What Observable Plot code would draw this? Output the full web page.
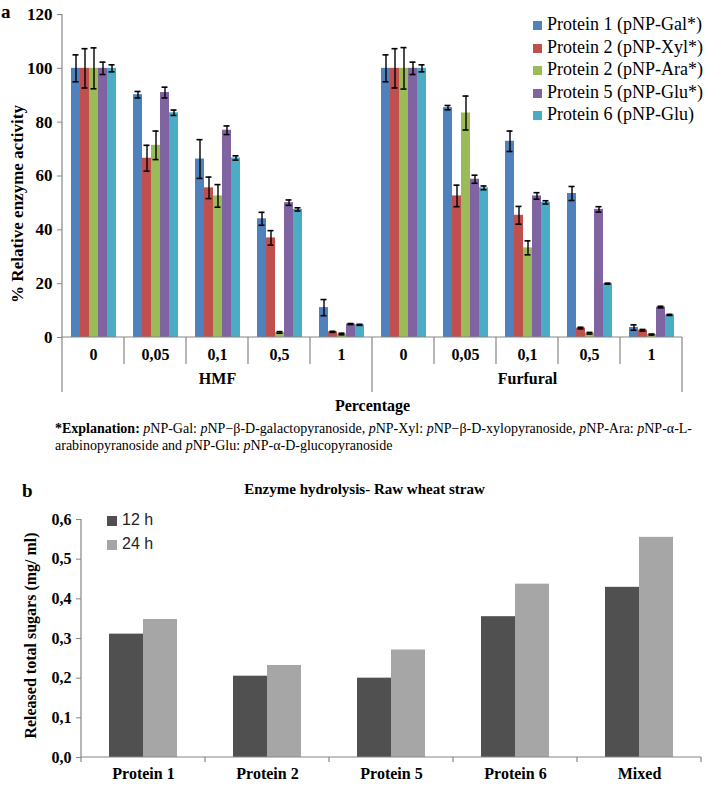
<!DOCTYPE html>
<html><head><meta charset="utf-8">
<script src="https://cdn.jsdelivr.net/npm/d3@7"></script>
<script src="https://cdn.jsdelivr.net/npm/@observablehq/plot@0.6"></script>
<style>
html,body{margin:0;padding:0;background:#fff;}
#root{position:relative;width:709px;height:785px;overflow:hidden;font-family:"Liberation Serif","Times New Roman",serif;color:#000;}
#root svg{position:absolute;left:0;}
.panel{position:absolute;font-weight:bold;font-size:19px;line-height:22px;}
.legA{position:absolute;left:533px;top:13px;font-size:18px;line-height:22.5px;white-space:nowrap;}
.legA .sw{display:inline-block;width:9px;height:9px;margin-right:5px;vertical-align:0px;}
.legB{position:absolute;left:107px;top:508px;font-family:"Liberation Sans",Arial,sans-serif;font-size:16px;line-height:24px;white-space:nowrap;color:#222;}
.legB .sw{display:inline-block;width:10px;height:10px;margin-right:5px;vertical-align:-1px;}
.expl{position:absolute;left:55px;top:420px;font-size:14px;line-height:17px;white-space:nowrap;}
.titleB{position:absolute;left:0;width:729px;top:481px;text-align:center;font-weight:bold;font-size:15px;}
</style></head><body><div id="root"></div>
<script>
// ---------- Panel a data ----------
const compounds = ["HMF", "Furfural"];
const concentrations = ["0", "0,05", "0,1", "0,5", "1"];
const seriesA = ["Protein 1 (pNP-Gal*)", "Protein 2 (pNP-Xyl*)", "Protein 2 (pNP-Ara*)", "Protein 5 (pNP-Glu*)", "Protein 6 (pNP-Glu)"];
const colorsA = ["#4F81BD", "#C0504D", "#9BBB59", "#8064A2", "#4BACC6"];
// values: HMF (5 concentrations) then Furfural (5 concentrations)
const p1Gal = [100, 90.2, 66.3, 44.1, 11.1, 100, 85.4, 72.9, 53.5, 3.7];
const p1GalErr = [5.0, 1.2, 7.2, 2.4, 3.0, 5.0, 0.8, 3.8, 2.6, 1.0];
const p2Xyl = [100, 66.6, 55.6, 37.0, 2.1, 100, 52.6, 45.4, 3.5, 2.7];
const p2XylErr = [7.3, 4.8, 4.0, 2.7, 0.2, 7.3, 4.0, 3.3, 0.3, 0.3];
const p2Ara = [100, 71.4, 52.6, 1.9, 1.3, 100, 83.4, 33.3, 1.6, 1.1];
const p2AraErr = [7.6, 5.3, 4.2, 0.3, 0.3, 7.7, 6.3, 2.6, 0.3, 0.2];
const p5Glu = [100, 91.0, 77.0, 50.1, 5.0, 100, 58.8, 52.6, 47.6, 11.3];
const p5GluErr = [2.3, 2.0, 1.6, 1.0, 0.2, 2.3, 1.5, 1.2, 1.0, 0.3];
const p6Glu = [100, 83.5, 66.7, 47.6, 4.7, 100, 55.6, 50.2, 20.0, 8.4];
const p6GluErr = [1.3, 1.0, 0.8, 0.6, 0.2, 1.3, 0.7, 0.6, 0.2, 0.2];
const yTicksA = [0, 20, 40, 60, 80, 100, 120];

// ---------- Panel b data ----------
const proteinsB = ["Protein 1", "Protein 2", "Protein 5", "Protein 6", "Mixed"];
const timesB = ["12 h", "24 h"];
const colorsB = ["#505050", "#A6A6A6"];
const sugars12h = [0.311, 0.205, 0.200, 0.355, 0.429];
const sugars24h = [0.348, 0.232, 0.271, 0.437, 0.555];
const yTicksB = [0, 0.1, 0.2, 0.3, 0.4, 0.5, 0.6];

// ---------- build tables ----------
const fxDomainA = compounds.flatMap(c => concentrations.map(k => c + "|" + k));
const valuesA = [p1Gal, p2Xyl, p2Ara, p5Glu, p6Glu];
const errorsA = [p1GalErr, p2XylErr, p2AraErr, p5GluErr, p6GluErr];
const dataA = [];
fxDomainA.forEach((key, gi) => {
  seriesA.forEach((s, si) => {
    dataA.push({key, series: s, value: valuesA[si][gi], err: errorsA[si][gi]});
  });
});
const dataB = [];
proteinsB.forEach((p, i) => {
  dataB.push({protein: p, time: timesB[0], value: sugars12h[i]});
  dataB.push({protein: p, time: timesB[1], value: sugars24h[i]});
});

const root = document.getElementById("root");
const AXIS_GRAY = "#868686";

// ---------- Panel a ----------
const plotA = Plot.plot({
  width: 709, height: 415,
  marginLeft: 59, marginRight: 25, marginTop: 14, marginBottom: 78,
  style: {fontFamily: "'Liberation Serif','Times New Roman',serif", fontSize: "16px", fontWeight: "bold", color: "#000", background: "transparent", overflow: "visible"},
  fx: {domain: fxDomainA, padding: 0, axis: null},
  x: {domain: seriesA, paddingInner: 0, paddingOuter: 0.755, axis: null},
  y: {domain: [0, 120], axis: null},
  color: {domain: seriesA, range: colorsA},
  marks: [
    Plot.axisY({ticks: yTicksA, tickSize: 5, tickPadding: 5, stroke: AXIS_GRAY, fill: "#000", label: null, fontSize: 17}),
    Plot.barY(dataA, {fx: "key", x: "series", y: "value", fill: "series"}),
    Plot.ruleX(dataA, {fx: "key", x: "series", y1: d => d.value - d.err, y2: d => d.value + d.err, stroke: "#000", strokeWidth: 1.4}),
    Plot.tickY(dataA, {fx: "key", x: "series", y: d => d.value - d.err, stroke: "#000", strokeWidth: 1.6, insetLeft: 1.5, insetRight: 1.5}),
    Plot.tickY(dataA, {fx: "key", x: "series", y: d => d.value + d.err, stroke: "#000", strokeWidth: 1.6, insetLeft: 1.5, insetRight: 1.5}),
    Plot.axisFx({anchor: "bottom", tickSize: 0, tickPadding: 11, tickFormat: k => k.split("|")[1], label: null, fill: "#000", fontSize: 16}),
    Plot.text(compounds, {fx: c => c + "|" + concentrations[2], text: c => c, frameAnchor: "bottom", dy: 46, fontSize: 16}),
    Plot.text(["Percentage"], {fx: () => "HMF|" + concentrations[4], text: d => d, frameAnchor: "bottom-right", textAnchor: "middle", dy: 73, fontSize: 16}),
    Plot.text(["% Relative enzyme activity"], {fx: () => "HMF|" + concentrations[0], text: d => d, frameAnchor: "left", textAnchor: "middle", rotate: -90, dx: -45, dy: 28, fontSize: 17})
  ]
});
plotA.style.top = "0px";
root.appendChild(plotA);
(function decorateA(svg) {
  const fx = svg.scale("fx"), y = svg.scale("y");
  const y0 = y.apply(0), yTop = y.apply(120);
  const g = d3.select(svg).append("g").attr("stroke", AXIS_GRAY).attr("stroke-width", 1.2).attr("fill", "none");
  const lefts = fxDomainA.map(k => fx.apply(k));
  const right = lefts[lefts.length - 1] + fx.bandwidth;
  g.append("line").attr("x1", lefts[0]).attr("x2", right).attr("y1", y0).attr("y2", y0);
  fxDomainA.forEach((k, i) => {
    const long = i % concentrations.length === 0;
    g.append("line").attr("x1", lefts[i]).attr("x2", lefts[i])
      .attr("y1", i === 0 ? yTop : y0).attr("y2", long ? y0 + 55 : y0 + 27);
  });
  g.append("line").attr("x1", right).attr("x2", right).attr("y1", y0).attr("y2", y0 + 55);
})(plotA);

// ---------- Panel b ----------
const plotB = Plot.plot({
  width: 709, height: 315,
  marginLeft: 79, marginRight: 7, marginTop: 49, marginBottom: 28,
  style: {fontFamily: "'Liberation Serif','Times New Roman',serif", fontSize: "15px", fontWeight: "bold", color: "#000", background: "transparent", overflow: "visible"},
  fx: {domain: proteinsB, padding: 0, axis: null},
  x: {domain: timesB, paddingInner: 0, paddingOuter: 0.78, axis: null},
  y: {domain: [0, 0.6], axis: null},
  color: {domain: timesB, range: colorsB},
  marks: [
    Plot.axisY({ticks: yTicksB, tickSize: 5, tickPadding: 5, stroke: AXIS_GRAY, fill: "#000", label: null, tickFormat: d => d3.format(".1f")(d).replace(".", ","), fontSize: 16}),
    Plot.barY(dataB, {fx: "protein", x: "time", y: "value", fill: "time"}),
    Plot.axisFx({anchor: "bottom", tickSize: 0, tickPadding: 10, label: null, fill: "#000", fontSize: 16}),
    Plot.text(["Released total sugars (mg/ ml)"], {fx: () => proteinsB[0], text: d => d, frameAnchor: "left", textAnchor: "middle", rotate: -90, dx: -51, dy: -3, fontSize: 16})
  ]
});
plotB.style.top = "470px";
root.appendChild(plotB);
(function decorateB(svg) {
  const fx = svg.scale("fx"), y = svg.scale("y");
  const y0 = y.apply(0), yTop = y.apply(0.6);
  const g = d3.select(svg).append("g").attr("stroke", AXIS_GRAY).attr("stroke-width", 1.2).attr("fill", "none");
  const lefts = proteinsB.map(k => fx.apply(k));
  const right = lefts[lefts.length - 1] + fx.bandwidth;
  g.append("line").attr("x1", lefts[0]).attr("x2", lefts[0]).attr("y1", yTop).attr("y2", y0 + 5);
  g.append("line").attr("x1", lefts[0]).attr("x2", right).attr("y1", y0).attr("y2", y0);
  lefts.slice(1).concat([right]).forEach(x => {
    g.append("line").attr("x1", x).attr("x2", x).attr("y1", y0).attr("y2", y0 + 5);
  });
})(plotB);

// ---------- HTML texts & legends ----------
const la = document.createElement("div"); la.className = "panel"; la.style.left = "1px"; la.style.top = "1px"; la.textContent = "a"; root.appendChild(la);
const lb = document.createElement("div"); lb.className = "panel"; lb.style.left = "22px"; lb.style.top = "480px"; lb.textContent = "b"; root.appendChild(lb);

const legA = d3.select(root).append("div").attr("class", "legA");
seriesA.forEach((s, i) => {
  const row = legA.append("div");
  row.append("span").attr("class", "sw").style("background", colorsA[i]);
  row.append("span").text(s);
});

const expl = document.createElement("div");
expl.className = "expl";
expl.innerHTML = "<b>*Explanation:</b> <i>p</i>NP-Gal: <i>p</i>NP\u2212\u03b2-D-galactopyranoside, <i>p</i>NP-Xyl: <i>p</i>NP\u2212\u03b2-D-xylopyranoside, <i>p</i>NP-Ara: <i>p</i>NP-\u03b1-L-<br>arabinopyranoside and <i>p</i>NP-Glu: <i>p</i>NP-\u03b1-D-glucopyranoside";
root.appendChild(expl);

const tb = document.createElement("div"); tb.className = "titleB"; tb.textContent = "Enzyme hydrolysis- Raw wheat straw"; root.appendChild(tb);

const legB = d3.select(root).append("div").attr("class", "legB");
timesB.forEach((t, i) => {
  const row = legB.append("div");
  row.append("span").attr("class", "sw").style("background", colorsB[i]);
  row.append("span").text(t);
});
</script></body></html>
